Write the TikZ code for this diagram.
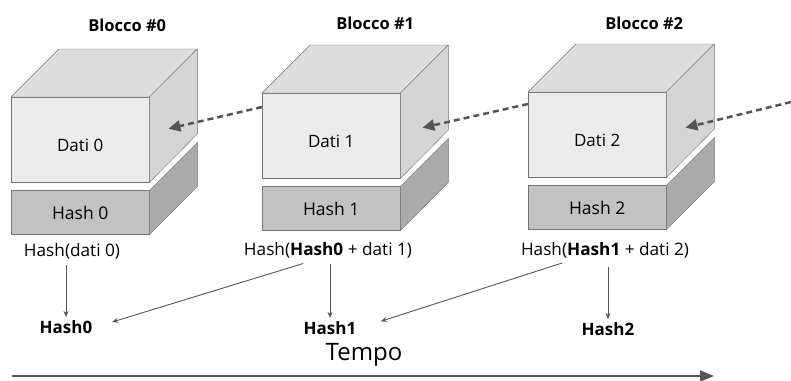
\documentclass[tikz,border=0pt]{standalone}
\usepackage{fontspec}
\setmainfont{Open Sans}
\definecolor{datifront}{RGB}{235, 235, 235}
\definecolor{datitop}{RGB}{221, 221, 221}
\definecolor{datiside}{RGB}{213, 213, 213}
\definecolor{hashfront}{RGB}{194, 194, 194}
\definecolor{hashside}{RGB}{170, 170, 170}
\definecolor{edgegray}{RGB}{115, 115, 115}
\definecolor{arrowgray}{RGB}{85, 85, 85}
\usetikzlibrary{arrows.meta, positioning, calc}

\begin{document}
\begin{tikzpicture}[x=1pt, y=-1pt,
  datibox/.style={draw=edgegray, fill=datifront, anchor=north west, minimum width=138pt, minimum height=85pt, inner sep=0pt, text height=24pt, text depth=0pt, font=\fontsize{17}{20}\selectfont},
  hashbox/.style={draw=edgegray, fill=hashfront, minimum width=138pt, minimum height=44pt, inner sep=0pt, font=\fontsize{17.5}{20}\selectfont},
  topface/.style={draw=edgegray, fill=datitop},
  sideface/.style={draw=edgegray, fill=datiside},
  hashface/.style={draw=edgegray, fill=hashside},
  blocklabel/.style={font=\fontsize{16.5}{19}\selectfont\bfseries},
  formula/.style={font=\fontsize{17.2}{20}\selectfont},
  result/.style={font=\fontsize{17}{20}\selectfont\bfseries},
  linkarrow/.style={-{Triangle[length=12pt, width=11pt]}, arrowgray, line width=2.5pt, dash pattern=on 6pt off 4pt},
  hasharrow/.style={-{Stealth[length=6pt, width=5pt]}, arrowgray, line width=0.9pt}
]
  \useasboundingbox (0,0) rectangle (791,380);

  % Block 0
  \node[datibox] (dati0) at (11,97) {Dati 0};
  \filldraw[topface] (dati0.north west) -- ++(48,-48) -- ++(138,0) -- (dati0.north east) -- cycle;
  \filldraw[sideface] (dati0.north east) -- ++(48,-48) -- ++(0,85) -- (dati0.south east) -- cycle;
  \node[hashbox, below=8pt of dati0] (hash0) {Hash 0};
  \filldraw[hashface] (hash0.north east) -- ++(48,-48) -- ++(0,44) -- (hash0.south east) -- cycle;
  \node[blocklabel] (title0) at ($(dati0.north)+(47,-72)$) {Blocco \#0};

  % Block 1
  \node[datibox] (dati1) at (262,93) {Dati 1};
  \filldraw[topface] (dati1.north west) -- ++(48,-48) -- ++(138,0) -- (dati1.north east) -- cycle;
  \filldraw[sideface] (dati1.north east) -- ++(48,-48) -- ++(0,85) -- (dati1.south east) -- cycle;
  \node[hashbox, below=8pt of dati1] (hash1) {Hash 1};
  \filldraw[hashface] (hash1.north east) -- ++(48,-48) -- ++(0,44) -- (hash1.south east) -- cycle;
  \node[blocklabel] (title1) at ($(dati1.north)+(44,-70)$) {Blocco \#1};

  % Block 2
  \node[datibox] (dati2) at (528,92) {Dati 2};
  \filldraw[topface] (dati2.north west) -- ++(48,-48) -- ++(138,0) -- (dati2.north east) -- cycle;
  \filldraw[sideface] (dati2.north east) -- ++(48,-48) -- ++(0,85) -- (dati2.south east) -- cycle;
  \node[hashbox, below=8pt of dati2] (hash2) {Hash 2};
  \filldraw[hashface] (hash2.north east) -- ++(48,-48) -- ++(0,44) -- (hash2.south east) -- cycle;
  \node[blocklabel] (title2) at ($(dati2.north)+(47,-69)$) {Blocco \#2};

  % Links between blocks
  \coordinate (out1) at ($(dati1.north west)+(0,14)$);
  \coordinate (in0) at ($(dati0.east)+(19,-11)$);
  \coordinate (out2) at ($(dati2.north west)+(0,12)$);
  \coordinate (in1) at ($(dati1.east)+(22,-8)$);
  \coordinate (out3) at (791,102);
  \coordinate (in2) at ($(dati2.east)+(19,-7)$);
  \draw[linkarrow] (out1) -- (in0);
  \draw[linkarrow] (out2) -- (in1);
  \draw[linkarrow] (out3) -- (in2);

  % Hash computations
  \node[formula] (calc0) at (72,251) {Hash(dati 0)};
  \node[formula] (calc1) at (328,250) {Hash(\textbf{Hash0} + dati 1)};
  \node[formula] (calc2) at (605,250) {Hash(\textbf{Hash1} + dati 2)};

  \node[result] (res0) at (66,327) {Hash0};
  \node[result] (res1) at (330,328) {Hash1};
  \node[result] (res2) at (608,329) {Hash2};

  \draw[hasharrow, shorten <=3pt] (res0.north |- calc0.south) -- (res0.north);
  \draw[hasharrow, shorten <=3pt] (res1.north |- calc1.south) -- (res1.north);
  \draw[hasharrow, shorten <=6pt] (res2.north |- calc2.south) -- (res2.north);
  \draw[hasharrow, shorten <=7pt, shorten >=17pt] ([xshift=-18pt]calc1.south) -- (res0.east);
  \draw[hasharrow, shorten <=5pt, shorten >=22pt] ([xshift=-38pt]calc2.south) -- (res1.east);

  % Time axis
  \node[font=\fontsize{24}{28}\selectfont] (tempo) at (364,355) {Tempo};
  \coordinate (tstart) at (12,376);
  \coordinate (tend) at (714,376);
  \draw[-{Triangle[length=14pt, width=11pt]}, arrowgray, line width=2pt] (tstart) -- (tend);
\end{tikzpicture}
\end{document}
